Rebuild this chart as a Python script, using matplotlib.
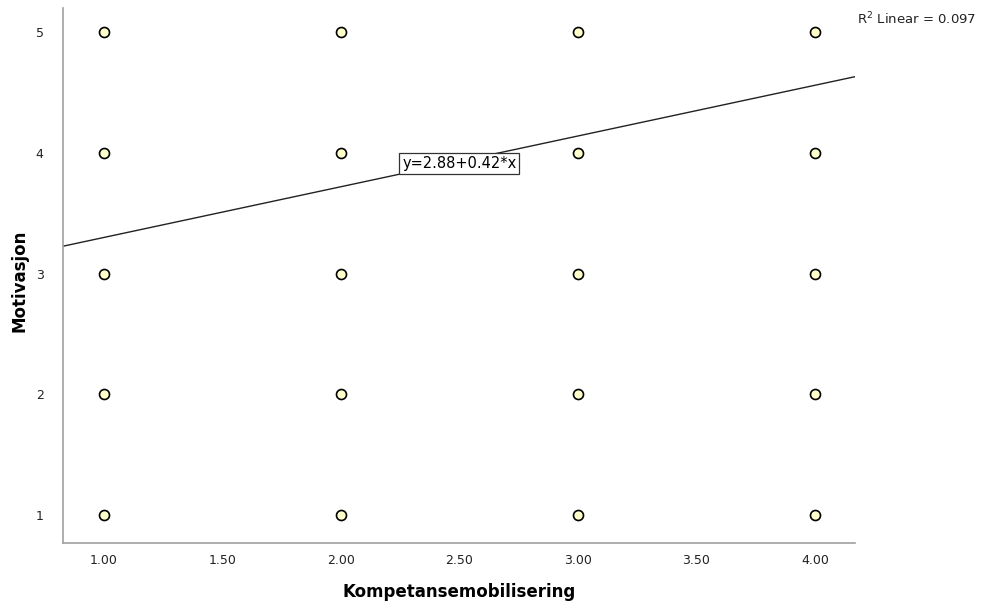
import matplotlib
matplotlib.use("Agg")
import matplotlib.pyplot as plt
import numpy as np

x_vals = [1, 1, 1, 1, 1, 2, 2, 2, 2, 2, 3, 3, 3, 3, 3, 4, 4, 4, 4, 4]
y_vals = [1, 2, 3, 4, 5, 1, 2, 3, 4, 5, 1, 2, 3, 4, 5, 1, 2, 3, 4, 5]
intercept = 2.88
slope = 0.42
r2 = 0.097
x_ticks = [1.0, 1.5, 2.0, 2.5, 3.0, 3.5, 4.0]
y_ticks = [1, 2, 3, 4, 5]

plt.rcParams['font.family'] = ['DejaVu Sans']

fig = plt.figure(figsize=(9.86, 6.09), dpi=100)
ax = fig.add_axes([0.0639, 0.1084, 0.8032, 0.8785])

xmin, xmax = 0.827, 4.169
ymin, ymax = 0.77, 5.2
ax.set_xlim(xmin, xmax)
ax.set_ylim(ymin, ymax)

xl = np.array([xmin, xmax])
ax.plot(xl, intercept + slope * xl, color='#222222', lw=1.0, zorder=2)

ax.scatter(x_vals, y_vals, s=52, facecolor='#ffffcc', edgecolor='black', linewidth=1.2, zorder=3)

ax.text(2.5, intercept + slope * 2.5 - 0.015, f"y={intercept:.2f}+{slope:.2f}*x", ha='center', va='center',
        fontsize=10.5, color='black', zorder=4,
        bbox=dict(boxstyle='square,pad=0.2', facecolor='white', edgecolor='#333333', linewidth=0.9))

for s in ['top', 'right']:
    ax.spines[s].set_visible(False)
for s in ['left', 'bottom']:
    ax.spines[s].set_color('#a0a0a0')
    ax.spines[s].set_linewidth(1.2)

ax.set_xticks(x_ticks)
ax.set_xticklabels([f"{t:.2f}" for t in x_ticks])
ax.set_yticks(y_ticks)
ax.set_yticklabels([str(t) for t in y_ticks])
ax.tick_params(length=0, labelsize=9, colors='#222222')
ax.tick_params(axis='x', pad=8)
ax.tick_params(axis='y', pad=14)

ax.set_xlabel("Kompetansemobilisering", fontsize=12, fontweight='bold')
ax.xaxis.set_label_coords(0.5, -0.075)
ax.set_ylabel("Motivasjon", fontsize=12, fontweight='bold')
ax.yaxis.set_label_coords(-0.043, 0.49)

fig.text(0.869, 0.968, f"R$^2$ Linear = {r2:.3f}", fontsize=9.5, ha='left', va='center', color='#222222')

fig.savefig("out.png", dpi=100)
